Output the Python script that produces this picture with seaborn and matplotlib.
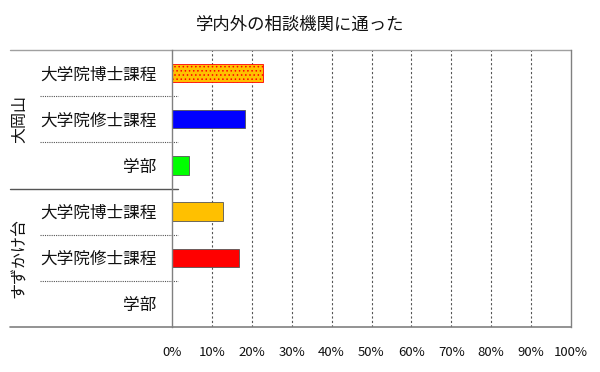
import numpy as np
import pandas as pd
import matplotlib
matplotlib.use('Agg')
import matplotlib.pyplot as plt
import matplotlib.transforms as mtransforms
import seaborn as sns

# data
campuses = ['大岡山', 'すずかけ台']
levels = ['大学院博士課程', '大学院修士課程', '学部']
values = [22.7, 18.4, 4.2, 12.8, 16.8, 0.0]   # % per row, top to bottom
bar_colors = ['#FFC000', '#0000FF', '#00FF00', '#FFC000', '#FF0000', '#FFFFFF']
x_ticks = [0, 10, 20, 30, 40, 50, 60, 70, 80, 90, 100]

sns.set_theme(style='white')
plt.rcParams['font.family'] = ['Noto Sans CJK JP', 'DejaVu Sans']
plt.rcParams['hatch.linewidth'] = 0.6

rows = [f'{c}_{l}' for c in campuses for l in levels]
df = pd.DataFrame({'row': rows, 'value': values})

fig = plt.figure(figsize=(6.0, 3.72), dpi=100)
ax = fig.add_axes([172 / 600, 1 - 327 / 372, 399 / 600, 277 / 372])

sns.barplot(data=df, x='value', y='row', hue='row', palette=bar_colors,
            legend=False, width=0.4, orient='h', ax=ax, saturation=1,
            edgecolor='#555555', linewidth=0.6)

# dotted red pattern on the first bar
p0 = ax.patches[0]
p0.set_hatch('....')
p0.set_edgecolor('#FF0000')
p0.set_linewidth(0.6)

ax.set_xlim(0, 100)
ax.set_ylim(5.5, -0.5)
ax.set_xticks(x_ticks)
ax.set_xticklabels([f'{t}%' for t in x_ticks], fontsize=9.5)
ax.set_yticks(range(len(rows)))
ax.set_yticklabels([l for c in campuses for l in levels], fontsize=12)
ax.tick_params(axis='x', length=0, pad=14, colors='#111111')
ax.tick_params(axis='y', length=0, pad=11, colors='#111111')
ax.set_xlabel('')
ax.set_ylabel('')

for t in x_ticks[1:-1]:
    ax.axvline(t, color='#555555', linestyle=(0, (2, 2)), linewidth=0.8, zorder=0)

for s in ['top', 'bottom', 'right', 'left']:
    ax.spines[s].set_visible(True)
    ax.spines[s].set_color('#808080')
    ax.spines[s].set_linewidth(1.0)
ax.spines['top'].set_visible(False)
ax.spines['bottom'].set_visible(False)

# separators in the label area
trans = mtransforms.blended_transform_factory(ax.transAxes, ax.transData)
for y in [0.5, 1.5, 3.5, 4.5]:
    ax.plot([-0.331, 0.015], [y, y], transform=trans, color='#555555',
            linewidth=0.8, linestyle=(0, (1, 1)), clip_on=False)
ax.plot([-0.406, 0.015], [2.5, 2.5], transform=trans, color='#555555',
        linewidth=1.0, clip_on=False)
ax.plot([-0.406, 1.0], [1, 1], transform=ax.transAxes, color='#A0A0A0',
        linewidth=1.0, clip_on=False)
ax.plot([-0.406, 1.0], [0, 0], transform=ax.transAxes, color='#808080',
        linewidth=1.2, clip_on=False)

# campus group labels
for i, c in enumerate(campuses):
    ax.text(-0.381, 1 + 3 * i, c, transform=trans, rotation=90,
            ha='center', va='center', fontsize=11.5, color='#111111')

fig.text(0.5, 1 - 25 / 372, '学内外の相談機関に通った', ha='center', va='center',
         fontsize=12.5, color='#111111')

fig.savefig('out.png', dpi=100)
